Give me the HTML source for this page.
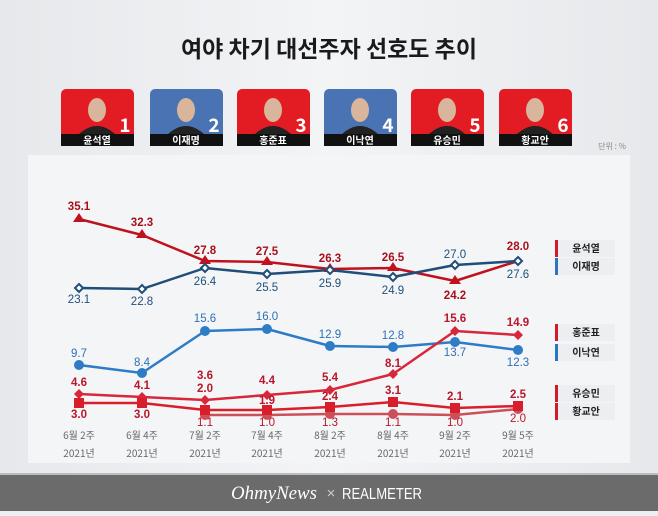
<!DOCTYPE html>
<html><head><meta charset="utf-8"><style>
body{margin:0;width:658px;height:511px;overflow:hidden;background:#eceef1;font-family:"Liberation Sans","Noto Sans CJK KR",sans-serif}
</style></head><body>
<svg width="658" height="511" xmlns="http://www.w3.org/2000/svg" font-family="Liberation Sans, Noto Sans CJK KR, sans-serif">
<defs><linearGradient id="bg" x1="0" y1="0" x2="1" y2="0"><stop offset="0" stop-color="#e6e8eb"/><stop offset="0.5" stop-color="#f3f4f6"/><stop offset="1" stop-color="#e6e8eb"/></linearGradient></defs>
<rect width="658" height="474" fill="url(#bg)"/>
<rect x="28" y="155" width="602" height="308" fill="#f4f5f7"/>
<text x="329" y="57" text-anchor="middle" font-size="23" font-weight="bold" fill="#1a1a1a" font-family="Noto Sans CJK KR, sans-serif">여야 차기 대선주자 선호도 추이</text>
<g font-family="Noto Sans CJK KR, sans-serif" font-weight="bold">
<rect x="61" y="89" width="73" height="57" rx="5" fill="#e31b23"/><rect x="61" y="134" width="73" height="12" fill="#111"/><text x="97" y="144" text-anchor="middle" font-size="10" fill="#fff">윤석열</text><text x="125" y="132" text-anchor="middle" font-size="19" fill="#fff">1</text><ellipse cx="97" cy="110" rx="9" ry="12" fill="#d9b59b"/><path d="M79 134 Q97 118 115 134Z" fill="#222"/>
<rect x="150" y="89" width="73" height="57" rx="5" fill="#4a73b3"/><rect x="150" y="134" width="73" height="12" fill="#111"/><text x="186" y="144" text-anchor="middle" font-size="10" fill="#fff">이재명</text><text x="214" y="132" text-anchor="middle" font-size="19" fill="#fff">2</text><ellipse cx="186" cy="110" rx="9" ry="12" fill="#d9b59b"/><path d="M168 134 Q186 118 204 134Z" fill="#222"/>
<rect x="237" y="89" width="73" height="57" rx="5" fill="#e31b23"/><rect x="237" y="134" width="73" height="12" fill="#111"/><text x="273" y="144" text-anchor="middle" font-size="10" fill="#fff">홍준표</text><text x="301" y="132" text-anchor="middle" font-size="19" fill="#fff">3</text><ellipse cx="273" cy="110" rx="9" ry="12" fill="#d9b59b"/><path d="M255 134 Q273 118 291 134Z" fill="#222"/>
<rect x="324" y="89" width="73" height="57" rx="5" fill="#4a73b3"/><rect x="324" y="134" width="73" height="12" fill="#111"/><text x="360" y="144" text-anchor="middle" font-size="10" fill="#fff">이낙연</text><text x="388" y="132" text-anchor="middle" font-size="19" fill="#fff">4</text><ellipse cx="360" cy="110" rx="9" ry="12" fill="#d9b59b"/><path d="M342 134 Q360 118 378 134Z" fill="#222"/>
<rect x="411" y="89" width="73" height="57" rx="5" fill="#e31b23"/><rect x="411" y="134" width="73" height="12" fill="#111"/><text x="447" y="144" text-anchor="middle" font-size="10" fill="#fff">유승민</text><text x="475" y="132" text-anchor="middle" font-size="19" fill="#fff">5</text><ellipse cx="447" cy="110" rx="9" ry="12" fill="#d9b59b"/><path d="M429 134 Q447 118 465 134Z" fill="#222"/>
<rect x="499" y="89" width="73" height="57" rx="5" fill="#e31b23"/><rect x="499" y="134" width="73" height="12" fill="#111"/><text x="535" y="144" text-anchor="middle" font-size="10" fill="#fff">황교안</text><text x="563" y="132" text-anchor="middle" font-size="19" fill="#fff">6</text><ellipse cx="535" cy="110" rx="9" ry="12" fill="#d9b59b"/><path d="M517 134 Q535 118 553 134Z" fill="#222"/>
</g>
<text x="626" y="149" text-anchor="end" font-size="8" fill="#888" font-family="Noto Sans CJK KR, sans-serif">단위 : %</text>

<g fill="none" stroke-width="2.5" stroke-linejoin="round" stroke-linecap="round">
<polyline points="79,219 142,235 205,261 267,262 330,269 393,268 455,281 518,261" stroke="#c0121e"/>
<polyline points="79,288 142,289 205,268 267,274 330,270 393,277 455,265 518,261" stroke="#1f4e79"/>
<polyline points="79,365 142,373 205,331 267,329 330,346 393,347 455,342 518,350" stroke="#2e7bc6"/>
<polyline points="79,394 142,397 205,400 267,395 330,390 393,374 455,331 518,335" stroke="#d8263a"/>
<polyline points="205,415 267,415 330,414 393,414 455,415 518,409" stroke="#cc5058"/>
<polyline points="79,403 142,403 205,410 267,410 330,407 393,402 455,408 518,406" stroke="#d81e2a"/>
</g>
<g fill="#c0121e"><path d="M79,213l6,9h-12z M142,229l6,9h-12z M205,255l6,9h-12z M267,256l6,9h-12z M330,263l6,9h-12z M393,262l6,9h-12z M455,275l6,9h-12z"/></g>
<g fill="#fff" stroke="#1f4e79" stroke-width="2"><path d="M79,284l4,4-4,4-4-4z M142,285l4,4-4,4-4-4z M205,264l4,4-4,4-4-4z M267,270l4,4-4,4-4-4z M330,266l4,4-4,4-4-4z M393,273l4,4-4,4-4-4z M455,261l4,4-4,4-4-4z M518,257l4,4-4,4-4-4z"/></g>
<g fill="#2e7bc6"><circle cx="79" cy="365" r="5"/><circle cx="142" cy="373" r="5"/><circle cx="205" cy="331" r="5"/><circle cx="267" cy="329" r="5"/><circle cx="330" cy="346" r="5"/><circle cx="393" cy="347" r="5"/><circle cx="455" cy="342" r="5"/><circle cx="518" cy="350" r="5"/></g>
<g fill="#d8263a"><path d="M79,389l5,5-5,5-5-5z M142,392l5,5-5,5-5-5z M205,395l5,5-5,5-5-5z M267,390l5,5-5,5-5-5z M330,385l5,5-5,5-5-5z M393,369l5,5-5,5-5-5z M455,326l5,5-5,5-5-5z M518,330l5,5-5,5-5-5z"/></g>
<g fill="#cc5058"><circle cx="205" cy="415" r="5"/><circle cx="267" cy="415" r="5"/><circle cx="330" cy="414" r="5"/><circle cx="393" cy="414" r="5"/><circle cx="455" cy="415" r="5"/><circle cx="518" cy="409" r="5"/></g>
<g fill="#d81e2a"><rect x="74" y="398" width="10" height="10"/><rect x="137" y="398" width="10" height="10"/><rect x="200" y="405" width="10" height="10"/><rect x="262" y="405" width="10" height="10"/><rect x="325" y="402" width="10" height="10"/><rect x="388" y="397" width="10" height="10"/><rect x="450" y="403" width="10" height="10"/><rect x="513" y="401" width="10" height="10"/></g>

<g font-size="11.5" font-weight="bold" text-anchor="middle" fill="#a8101c">
<text x="79" y="210">35.1</text><text x="142" y="226">32.3</text><text x="205" y="254">27.8</text><text x="267" y="255">27.5</text><text x="330" y="262">26.3</text><text x="393" y="261">26.5</text><text x="455" y="299">24.2</text><text x="518" y="250">28.0</text>
</g>
<g font-size="11.5" text-anchor="middle" fill="#1f4e79">
<text x="79" y="303">23.1</text><text x="142" y="305">22.8</text><text x="205" y="285">26.4</text><text x="267" y="291">25.5</text><text x="330" y="287">25.9</text><text x="393" y="294">24.9</text><text x="455" y="258">27.0</text><text x="518" y="278">27.6</text>
</g>
<g font-size="11.5" text-anchor="middle" fill="#2e6fb5">
<text x="79" y="357">9.7</text><text x="142" y="366">8.4</text><text x="205" y="322">15.6</text><text x="267" y="320">16.0</text><text x="330" y="338">12.9</text><text x="393" y="339">12.8</text><text x="455" y="356">13.7</text><text x="518" y="366">12.3</text>
</g>
<g font-size="11.5" font-weight="bold" text-anchor="middle" fill="#b8162a">
<text x="79" y="386">4.6</text><text x="142" y="389">4.1</text><text x="205" y="379">3.6</text><text x="267" y="384">4.4</text><text x="330" y="381">5.4</text><text x="393" y="367">8.1</text><text x="455" y="322">15.6</text><text x="518" y="326">14.9</text>
<text x="79" y="418">3.0</text><text x="142" y="418">3.0</text><text x="205" y="392">2.0</text><text x="267" y="404">1.9</text><text x="330" y="400">2.4</text><text x="393" y="394">3.1</text><text x="455" y="400">2.1</text><text x="518" y="398">2.5</text>
</g>
<g font-size="11.5" text-anchor="middle" fill="#b8162a">
<text x="205" y="426">1.1</text><text x="267" y="426">1.0</text><text x="330" y="426">1.3</text><text x="393" y="426">1.1</text><text x="455" y="426">1.0</text><text x="518" y="422">2.0</text>
</g>
<g font-size="10" text-anchor="middle" fill="#666" font-family="Noto Sans CJK KR, sans-serif">
<text x="79" y="439">6월 2주</text><text x="142" y="439">6월 4주</text><text x="205" y="439">7월 2주</text><text x="267" y="439">7월 4주</text><text x="330" y="439">8월 2주</text><text x="393" y="439">8월 4주</text><text x="455" y="439">9월 2주</text><text x="518" y="439">9월 5주</text>
<text x="79" y="457">2021년</text><text x="142" y="457">2021년</text><text x="205" y="457">2021년</text><text x="267" y="457">2021년</text><text x="330" y="457">2021년</text><text x="393" y="457">2021년</text><text x="455" y="457">2021년</text><text x="518" y="457">2021년</text>
</g>
<g font-size="10" font-weight="bold" fill="#222" font-family="Noto Sans CJK KR, sans-serif">
<rect x="558" y="240" width="57" height="17" fill="#eceef1"/><rect x="555" y="240" width="3" height="17" fill="#d01c28"/><text x="586" y="252" text-anchor="middle">윤석열</text>
<rect x="558" y="258" width="57" height="17" fill="#eceef1"/><rect x="555" y="258" width="3" height="17" fill="#2e75c0"/><text x="586" y="270" text-anchor="middle">이재명</text>
<rect x="558" y="324" width="57" height="17" fill="#eceef1"/><rect x="555" y="324" width="3" height="17" fill="#d01c28"/><text x="586" y="336" text-anchor="middle">홍준표</text>
<rect x="558" y="344" width="57" height="17" fill="#eceef1"/><rect x="555" y="344" width="3" height="17" fill="#2e75c0"/><text x="586" y="356" text-anchor="middle">이낙연</text>
<rect x="558" y="385" width="57" height="17" fill="#eceef1"/><rect x="555" y="385" width="3" height="17" fill="#d01c28"/><text x="586" y="397" text-anchor="middle">유승민</text>
<rect x="558" y="403" width="57" height="17" fill="#eceef1"/><rect x="555" y="403" width="3" height="17" fill="#d01c28"/><text x="586" y="415" text-anchor="middle">황교안</text>
</g>
<rect x="0" y="474" width="658" height="37" fill="#6b6b6b"/>
<rect x="0" y="473" width="658" height="2" fill="#bdbdbd"/>
<text x="274" y="499" text-anchor="middle" font-size="19" font-style="italic" fill="#fff" font-family="Liberation Serif, serif" textLength="86" lengthAdjust="spacingAndGlyphs">OhmyNews</text>
<text x="331" y="498" text-anchor="middle" font-size="15" fill="#ccc">×</text>
<text x="382" y="499" text-anchor="middle" font-size="16" fill="#fff" textLength="80" lengthAdjust="spacingAndGlyphs">REALMETER</text>
</svg>
</body></html>
